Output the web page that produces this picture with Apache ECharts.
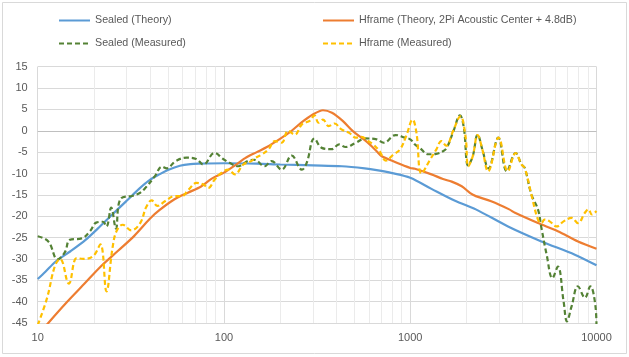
<!DOCTYPE html>
<html>
<head>
<meta charset="utf-8">
<script src="https://cdn.jsdelivr.net/npm/echarts@6/dist/echarts.min.js"></script>
<style>html,body{margin:0;padding:0;background:#fff;}#c{width:629px;height:357px;}</style>
</head>
<body>
<div id="c"></div>
<script>
const seriesNames = ['Sealed (Theory)', 'Hframe (Theory, 2Pi Acoustic Center + 4.8dB)', 'Sealed (Measured)', 'Hframe (Measured)'];
const yTicks = {min: -45, max: 15, step: 5};
const xRange = {min: 10, max: 10000};
const minorFreqs = [20,30,40,50,60,70,80,90,200,300,400,500,600,700,800,900,2000,3000,4000,5000,6000,7000,8000,9000];

const sealedTheory = [[10,-34.7],[11,-33.0],[12.5,-30.6],[15,-28.2],[18,-25.6],[21,-22.9],[25,-19.7],[30,-16.4],[35,-13.6],[40,-11.5],[45,-10.2],[50,-9.2],[58,-8.2],[66,-7.8],[74,-7.7],[100,-7.6],[150,-7.7],[200,-7.9],[300,-8.1],[430,-8.3],[570,-8.8],[660,-9.2],[800,-9.9],[1000,-11.0],[1300,-13.6],[1740,-16.4],[2250,-18.4],[3350,-22.4],[5060,-25.9],[7650,-29.0],[10000,-31.5]];

const hframeTheory = [[10,-48],[11.4,-45],[14,-40.6],[18,-35.6],[22,-31.6],[27,-28.1],[33,-24.6],[40,-20.6],[45,-18.6],[54,-16.1],[64,-14.5],[75,-13.1],[86,-11.2],[100,-9.8],[112,-8.4],[130,-6.4],[150,-5.0],[170,-3.8],[200,-1.9],[225,-0.4],[260,1.9],[300,3.8],[340,4.8],[380,4.2],[434,2.3],[492,-0.1],[570,-2.2],[610,-3.3],[660,-4.8],[700,-5.9],[806,-7.1],[860,-7.6],[1000,-8.7],[1060,-8.9],[1300,-10.2],[1500,-11.3],[1670,-11.9],[1890,-13.0],[2100,-14.6],[2250,-15.3],[2720,-16.5],[3400,-18.4],[3650,-19.2],[4850,-21.6],[6200,-23.5],[7960,-25.9],[10000,-27.6]];

const sealedMeasured = [[10,-24.7],[11.4,-25.9],[12.8,-30.1],[14,-28.4],[14.9,-25.5],[17.2,-25.2],[19.1,-23.5],[20.6,-21.5],[22.4,-21.3],[23.4,-22.4],[24.8,-18.0],[26.3,-22.9],[27.9,-15.9],[32.4,-15.2],[35.5,-14.5],[38,-13.3],[42.6,-10.6],[46.5,-8.4],[49.3,-8.8],[55,-7.1],[63,-6.3],[71,-6.6],[77.5,-7.9],[89,-5.2],[99,-6.6],[107,-7.5],[119,-8.3],[135,-7.0],[146,-6.8],[165,-8.3],[180,-7.1],[204,-9.1],[231,-5.8],[262,-9.1],[278,-7.5],[306,-1.8],[335,-4.0],[378,-4.3],[415,-3.2],[450,-3.8],[510,-2.8],[575,-1.8],[660,-2.0],[720,-2.8],[835,-1.0],[935,-1.6],[1000,-2.0],[1060,-3.2],[1130,-4.1],[1250,-5.5],[1380,-5.4],[1500,-4.8],[1570,-4.0],[1700,-0.3],[1850,3.6],[1940,0.7],[2045,-8.1],[2165,-6.0],[2300,-0.9],[2440,-4.4],[2630,-8.8],[2970,-1.6],[3300,-9.5],[3680,-5.2],[3960,-7.9],[4120,-8.7],[4470,-14.9],[4850,-18.4],[5060,-22.7],[5400,-29.0],[5800,-34.5],[6200,-31.8],[6660,-40.0],[6940,-44.6],[7350,-41.1],[7950,-36.4],[8670,-39.1],[9260,-36.4],[9850,-40.7],[10000,-46]];

const hframeMeasured = [[10,-45.5],[11.2,-39.3],[12.4,-31.5],[13.2,-30.0],[14.7,-35.8],[16.2,-29.8],[17.6,-30.0],[19.9,-29.3],[21.7,-26.6],[23.4,-37.6],[25.2,-27.5],[26.5,-23.5],[28.6,-22.0],[31.8,-23.3],[35.5,-21.6],[38.3,-17.8],[40.9,-16.3],[44,-17.6],[48.2,-16.5],[54.5,-15.3],[59.2,-15.3],[64.5,-13.8],[71.3,-12.2],[77.5,-12.6],[82.3,-13.4],[89.2,-11.4],[97.2,-9.8],[105.6,-9.1],[114.5,-10.2],[127,-7.9],[140,-7.1],[148,-6.3],[159,-5.6],[173,-4.4],[188,-2.4],[204,-2.8],[221,0.0],[240,-0.9],[262,1.5],[290,2.4],[306,3.6],[322,1.9],[340,2.6],[365,1.1],[393,1.7],[425,0.4],[470,-0.5],[510,-1.6],[547,-1.4],[593,-2.4],[633,-3.2],[685,-4.8],[740,-7.0],[810,-5.6],[880,-4.4],[950,-1.3],[1030,2.6],[1080,-0.5],[1150,-10.0],[1280,-6.7],[1380,-4.4],[1470,-2.4],[1560,-3.5],[1700,0.0],[1860,3.4],[1980,-1.3],[2050,-8.3],[2165,-6.0],[2300,-1.0],[2440,-4.4],[2620,-9.5],[2980,-1.6],[3340,-9.5],[3680,-5.2],[3960,-7.9],[4120,-8.7],[4470,-14.9],[4850,-20.8],[5060,-21.6],[5260,-20.8],[5600,-21.2],[6100,-22.4],[6660,-21.2],[7350,-20.4],[7950,-21.6],[8660,-19.2],[9050,-18.4],[9450,-19.6],[10000,-18.8]];

const FONT = '"Liberation Sans", Arial, sans-serif';
const TXT = '#595959';
const chart = echarts.init(document.getElementById('c'), null, {renderer: 'canvas'});

function legendAt(name, left, top) {
  return {
    data: [name], left: left, top: top, orient: 'horizontal',
    itemWidth: 31, itemHeight: 12, itemGap: 5, padding: 0,
    selectedMode: false,
    itemStyle: {opacity: 0},
    textStyle: {color: TXT, fontSize: 10.7, fontFamily: FONT}
  };
}

chart.setOption({
  animation: false,
  backgroundColor: '#fff',
  graphic: [{
    type: 'rect', silent: true,
    shape: {x: 2.5, y: 2.5, width: 624, height: 351},
    style: {fill: 'none', stroke: '#d9d9d9', lineWidth: 1}
  }],
  legend: [
    legendAt(seriesNames[0], 58, 15),
    legendAt(seriesNames[1], 322, 15),
    legendAt(seriesNames[2], 58, 38),
    legendAt(seriesNames[3], 322, 38)
  ],
  grid: {left: 37.7, right: 32.5, top: 66.7, bottom: 34, containLabel: false},
  xAxis: {
    type: 'log', logBase: 10, min: xRange.min, max: xRange.max,
    axisLine: {show: false}, axisTick: {show: false},
    axisLabel: {color: TXT, fontSize: 11, fontFamily: FONT, margin: 9, formatter: v => String(Math.round(v))},
    splitLine: {show: true, lineStyle: {color: '#d9d9d9', width: 1}}
  },
  yAxis: {
    type: 'value', min: yTicks.min, max: yTicks.max, interval: yTicks.step,
    axisLine: {show: false}, axisTick: {show: false},
    axisLabel: {color: TXT, fontSize: 11, fontFamily: FONT, margin: 10},
    splitLine: {show: true, lineStyle: {color: '#d9d9d9', width: 1}}
  },
  series: [
    {
      name: 'minor', type: 'line', data: [], z: 1, silent: true,
      markLine: {
        silent: true, symbol: ['none', 'none'], label: {show: false}, z: 1,
        animation: false,
        data: minorFreqs.map(f => ({xAxis: f, lineStyle: {color: '#ebebeb', width: 1, type: 'solid'}}))
          .concat([{yAxis: 0, lineStyle: {color: '#bfbfbf', width: 1, type: 'solid'}}])
      }
    },
    {name: seriesNames[0], type: 'line', data: sealedTheory, showSymbol: false, symbol: 'none', smooth: 0.3, z: 3,
      lineStyle: {color: '#5B9BD5', width: 2.2}, itemStyle: {color: '#5B9BD5'}},
    {name: seriesNames[1], type: 'line', data: hframeTheory, showSymbol: false, symbol: 'none', smooth: 0.3, z: 4,
      lineStyle: {color: '#ED7D31', width: 2.2}, itemStyle: {color: '#ED7D31'}},
    {name: seriesNames[2], type: 'line', data: sealedMeasured, showSymbol: false, symbol: 'none', smooth: 0.4, z: 5,
      lineStyle: {color: '#548235', width: 2.2, type: [5, 3]}, itemStyle: {color: '#548235'}},
    {name: seriesNames[3], type: 'line', data: hframeMeasured, showSymbol: false, symbol: 'none', smooth: 0.4, z: 6,
      lineStyle: {color: '#FFC000', width: 2.2, type: [5, 3]}, itemStyle: {color: '#FFC000'}}
  ]
});
</script>
</body>
</html>
